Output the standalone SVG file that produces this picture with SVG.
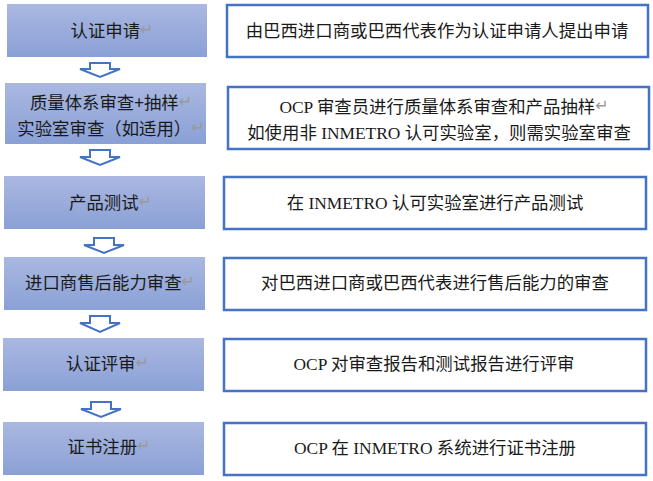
<svg xmlns="http://www.w3.org/2000/svg" width="653" height="481" viewBox="0 0 653 481">
<style>
.step{fill:url(#g);}
.desc{fill:#fff;stroke:#4472C4;stroke-width:2.5;}
.arr{fill:#fff;stroke:#4472C4;stroke-width:2;stroke-linejoin:miter;}
.lt{font-family:"Noto Sans CJK SC","Noto Sans",sans-serif;font-size:17.4px;fill:#1a1a1a;text-anchor:middle;}
.rt{font-family:"Liberation Serif","Noto Sans CJK SC",serif;font-size:17.4px;fill:#1a1a1a;text-anchor:middle;}
.pm{font-family:"DejaVu Sans",sans-serif;font-size:16px;fill:#9a9a9a;}
</style>
<defs>
<linearGradient id="g" x1="0" y1="0" x2="0" y2="1">
<stop offset="0" stop-color="#AAB8E1"/>
<stop offset="1" stop-color="#8AA0D6"/>
</linearGradient>
</defs>
<rect width="653" height="481" fill="#fff"/>
<g id="connectors">
<path class="arr" d="M90,63 H110 V69 H120 L100,77 L80,69 H90 Z"/>
<path class="arr" d="M90,150 H110 V157 H120 L100,165 L80,157 H90 Z"/>
<path class="arr" d="M94,238 H114 V245 H124 L104,253 L84,245 H94 Z"/>
<path class="arr" d="M90,316 H110 V323 H120 L100,332 L80,323 H90 Z"/>
<path class="arr" d="M91,402 H111 V409 H121 L101,417 L81,409 H91 Z"/>
</g>
<g id="step1">
<rect class="step" x="7" y="4" width="200" height="53"/>
<text class="lt" x="112" y="37">认证申请<tspan class="pm" dy="-2">↵</tspan></text>
</g>
<g id="desc1">
<rect class="desc" x="227" y="5" width="421" height="52"/>
<text class="rt" x="437" y="37">由巴西进口商或巴西代表作为认证申请人提出申请</text>
</g>
<g id="step2">
<rect class="step" x="5" y="83" width="201" height="61"/>
<text class="lt" x="111" y="109">质量体系审查+抽样<tspan class="pm" dy="-2">↵</tspan></text>
<text class="lt" x="111" y="135">实验室审查（如适用）<tspan class="pm" dy="-2">↵</tspan></text>
</g>
<g id="desc2">
<rect class="desc" x="228" y="87" width="421" height="62"/>
<text class="rt" x="444" y="113">OCP 审查员进行质量体系审查和产品抽样<tspan class="pm" dy="-2">↵</tspan></text>
<text class="rt" x="439" y="139">如使用非 INMETRO 认可实验室，则需实验室审查</text>
</g>
<g id="step3">
<rect class="step" x="4" y="176" width="201" height="53"/>
<text class="lt" x="110.5" y="209">产品测试<tspan class="pm" dy="-2">↵</tspan></text>
</g>
<g id="desc3">
<rect class="desc" x="224" y="177" width="422" height="52"/>
<text class="rt" x="435" y="209">在 INMETRO 认可实验室进行产品测试</text>
</g>
<g id="step4">
<rect class="step" x="4" y="257" width="201" height="53"/>
<text class="lt" x="110" y="289">进口商售后能力审查<tspan class="pm" dy="-2">↵</tspan></text>
</g>
<g id="desc4">
<rect class="desc" x="224" y="258" width="422" height="52"/>
<text class="rt" x="435" y="289">对巴西进口商或巴西代表进行售后能力的审查</text>
</g>
<g id="step5">
<rect class="step" x="3" y="338" width="201" height="53"/>
<text class="lt" x="107.5" y="370">认证评审<tspan class="pm" dy="-2">↵</tspan></text>
</g>
<g id="desc5">
<rect class="desc" x="224" y="339" width="422" height="52"/>
<text class="rt" x="434" y="370">OCP 对审查报告和测试报告进行评审</text>
</g>
<g id="step6">
<rect class="step" x="3" y="422" width="201" height="53"/>
<text class="lt" x="109" y="453">证书注册<tspan class="pm" dy="-2">↵</tspan></text>
</g>
<g id="desc6">
<rect class="desc" x="224" y="423" width="422" height="52"/>
<text class="rt" x="435" y="454">OCP 在 INMETRO 系统进行证书注册</text>
</g>
</svg>
